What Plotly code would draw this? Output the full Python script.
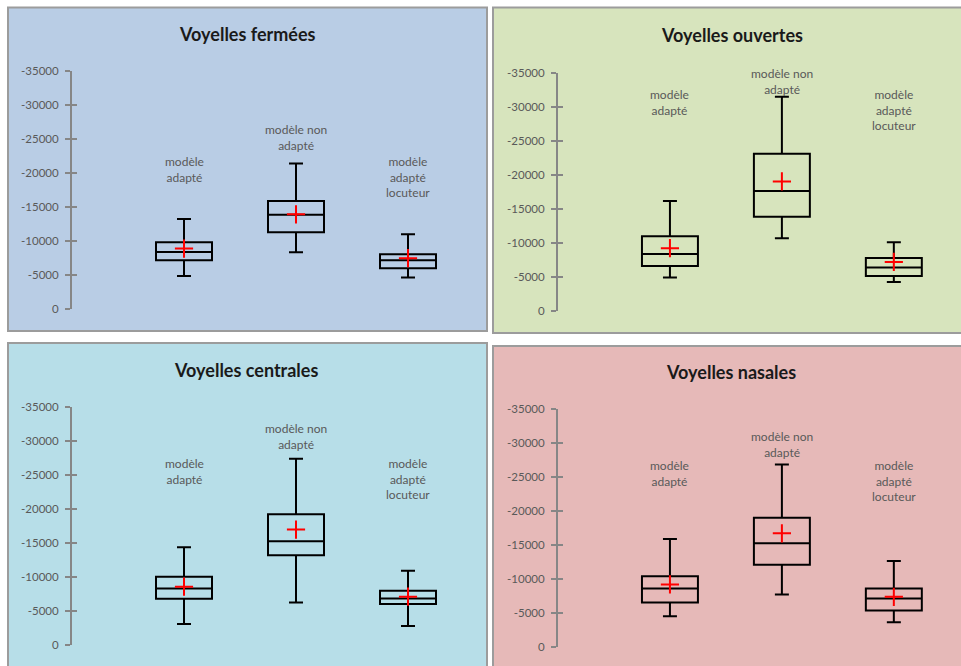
import plotly.graph_objects as go

W, H = 961, 666

# ---------------- data ----------------
categories = ["modèle<br>adapté", "modèle non<br>adapté", "modèle<br>adapté<br>locuteur"]
panel_titles = ["Voyelles fermées", "Voyelles ouvertes", "Voyelles centrales", "Voyelles nasales"]

# values are negative (axis reversed): per panel [adapté, non adapté, adapté locuteur]
# w_top / b_top = more negative ends (upper whisker / upper box edge on the reversed axis)
fermees_w_top = [-13200, -21370, -10980]
fermees_b_top = [-9800, -15840, -8040]
fermees_med = [-8380, -13820, -7160]
fermees_b_bot = [-7160, -11270, -5980]
fermees_w_bot = [-4850, -8330, -4610]
fermees_mean = [-8870, -13900, -7450]

ouvertes_w_top = [-16130, -31470, -10100]
ouvertes_b_top = [-10980, -23090, -7790]
ouvertes_med = [-8380, -17600, -6370]
ouvertes_b_bot = [-6620, -13820, -5150]
ouvertes_w_bot = [-4900, -10690, -4260]
ouvertes_mean = [-9220, -19020, -7200]

centrales_w_top = [-14410, -27400, -10980]
centrales_b_top = [-10100, -19260, -8040]
centrales_med = [-8380, -15290, -6910]
centrales_b_bot = [-6860, -13240, -6080]
centrales_w_bot = [-3140, -6320, -2840]
centrales_mean = [-8630, -17010, -7160]

nasales_w_top = [-15930, -26850, -12690]
nasales_b_top = [-10440, -19060, -8670]
nasales_med = [-8670, -15290, -7200]
nasales_b_bot = [-6610, -12150, -5440]
nasales_w_bot = [-4600, -7790, -3720]
nasales_mean = [-9260, -16760, -7440]

tick_vals = [0, -5000, -10000, -15000, -20000, -25000, -30000, -35000]
tick_text = ["0", "-5000", "-10000", "-15000", "-20000", "-25000", "-30000", "-35000"]

panels = [
    (fermees_w_top, fermees_b_top, fermees_med, fermees_b_bot, fermees_w_bot, fermees_mean),
    (ouvertes_w_top, ouvertes_b_top, ouvertes_med, ouvertes_b_bot, ouvertes_w_bot, ouvertes_mean),
    (centrales_w_top, centrales_b_top, centrales_med, centrales_b_bot, centrales_w_bot, centrales_mean),
    (nasales_w_top, nasales_b_top, nasales_med, nasales_b_bot, nasales_w_bot, nasales_mean),
]

# ---------------- layout / style ----------------
bg_colors = ["#B9CDE5", "#D7E4BD", "#B7DEE8", "#E6B9B8"]
# target pixel positions (as seen in the final picture)
panel_px = [(8, 8, 487, 331), (493, 8, 964, 333), (8, 343, 487, 690), (493, 346, 964, 690)]
plot_px = [(72, 71, 309), (558, 73, 311), (72, 407, 645), (558, 409, 647)]
title_px = [(247, 34), (732, 35), (246, 370), (731, 372)]
label_frac = [[0.658, 0.793, 0.658], [0.948, 1.038, 0.948], [0.803, 0.948, 0.803], [0.803, 0.923, 0.803]]
X_RANGE = [-1, 2.6]
PX_PER_CAT = 112

# vertical calibration of the rendering pipeline (observed offset / scale)
V_OFF, V_SCALE = 7.5, 0.979


def py2paper(py):
    return 1 - ((py - V_OFF) / V_SCALE) / H


fig = go.Figure()
shapes = []
annotations = []
layout_axes = {}

for i, (w_top, b_top, med, b_bot, w_bot, mean) in enumerate(panels):
    n = i + 1
    xs = list(range(len(categories)))
    xa = "x" if n == 1 else f"x{n}"
    ya = "y" if n == 1 else f"y{n}"
    fig.add_trace(go.Box(
        x=xs, q1=b_top, median=med, q3=b_bot, lowerfence=w_top, upperfence=w_bot,
        xaxis=xa, yaxis=ya, width=0.5, whiskerwidth=0.25,
        fillcolor="rgba(0,0,0,0)", line=dict(color="black", width=2),
        boxpoints=False, hoverinfo="skip", showlegend=False,
    ))
    fig.add_trace(go.Scatter(
        x=xs, y=mean, xaxis=xa, yaxis=ya, mode="markers",
        marker=dict(symbol="cross-thin", size=13, line=dict(color="#FF0000", width=2)),
        showlegend=False, hoverinfo="skip",
    ))

    x0, y0, x1, y1 = panel_px[i]
    shapes.append(dict(type="rect", xref="paper", yref="paper", layer="below",
                       x0=x0 / W, x1=x1 / W, y0=py2paper(y1), y1=py2paper(y0),
                       fillcolor=bg_colors[i], line=dict(color="#9C9C9C", width=2)))

    ax_x, ytop, ybot = plot_px[i]
    xd = [ax_x / W, min(1.0, (ax_x + PX_PER_CAT * (X_RANGE[1] - X_RANGE[0])) / W)]
    yd = [py2paper(ybot), py2paper(ytop)]
    sfx = "" if n == 1 else str(n)
    layout_axes[f"xaxis{sfx}"] = dict(domain=xd, range=X_RANGE, visible=False, anchor=ya)
    layout_axes[f"yaxis{sfx}"] = dict(
        domain=yd, range=[0, -35000], anchor=xa, showgrid=False, zeroline=False,
        showline=True, linecolor="#868686", linewidth=2,
        ticks="outside", ticklen=5, tickwidth=1.5, tickcolor="#868686",
        tickvals=tick_vals, ticktext=tick_text, ticklabelstandoff=4,
        tickfont=dict(family="Lato", size=11.5, color="#595959"),
    )
    ov = 4 + n
    layout_axes[f"yaxis{ov}"] = dict(
        domain=yd, range=[0, -35000], anchor=xa, overlaying=ya, showgrid=False,
        zeroline=False, showline=False, ticks="inside", ticklen=5, tickwidth=1.5,
        tickcolor="#868686", tickvals=tick_vals, showticklabels=False,
    )

    tx, ty = title_px[i]
    annotations.append(dict(xref="paper", yref="paper", x=tx / W, y=py2paper(ty),
                            text=f"<b>{panel_titles[i]}</b>", showarrow=False,
                            xanchor="center", yanchor="middle",
                            font=dict(family="Lato", size=18, color="#1a1a1a")))
    for j, cat in enumerate(categories):
        annotations.append(dict(xref=xa, yref=f"{ya} domain", x=j, y=label_frac[i][j],
                                text=cat, showarrow=False, xanchor="center", yanchor="top",
                                font=dict(family="Lato", size=12, color="#595959")))

for n in range(1, 5):
    xa = "x" if n == 1 else f"x{n}"
    fig.add_trace(go.Scatter(x=[None], y=[None], xaxis=xa, yaxis=f"y{4 + n}",
                             showlegend=False, hoverinfo="skip"))

fig.update_layout(
    width=W, height=H, autosize=False, margin=dict(l=0, r=0, t=0, b=0),
    paper_bgcolor="white", plot_bgcolor="rgba(0,0,0,0)",
    shapes=shapes, annotations=annotations, showlegend=False,
    **layout_axes,
)

post = (
    "var d=document.getElementById('{plot_id}');"
    "d.style.position='fixed';d.style.top='0px';d.style.left='0px';"
    "document.body.style.margin='0px';document.body.style.overflow='hidden';"
    "document.documentElement.style.overflow='hidden';"
)
fig.write_html("out.html", config={"displayModeBar": False, "responsive": False}, post_script=post)
